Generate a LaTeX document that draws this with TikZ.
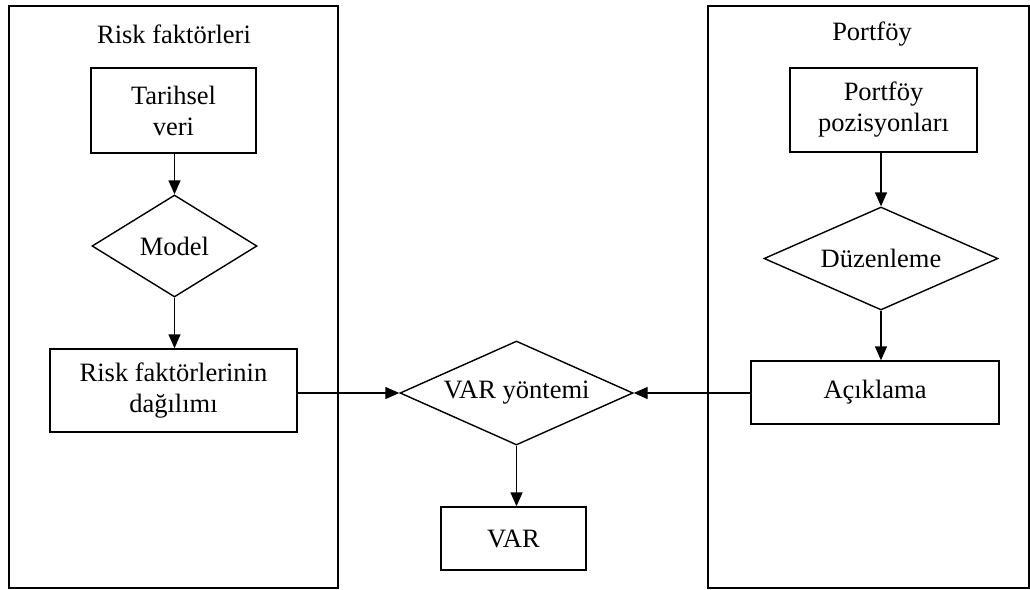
\documentclass[tikz,border=0pt]{standalone}
\usepackage{fontspec}
\setmainfont{Liberation Serif}
\usetikzlibrary{shapes.geometric,arrows.meta}
\tikzset{
  panel/.style={draw, line width=1.5pt, inner sep=0pt},
  stepbox/.style={draw, line width=1.4pt, align=center, inner sep=0pt},
  decision/.style={draw, diamond, line width=1.4pt, align=center, inner sep=0pt},
  flow/.style={line width=1.4pt, -{Triangle[length=14pt,width=12pt]}},
  title/.style={inner sep=0pt}
}
\begin{document}
\begin{tikzpicture}[x=1pt, y=-1pt, font=\fontsize{26.5}{31}\selectfont]
\useasboundingbox (0,0) rectangle (1030,589);

% two side panels
\node[panel, minimum width=329pt, minimum height=582pt] (lpanel) at (173.5,297) {};
\node[panel, minimum width=321pt, minimum height=582pt] (rpanel) at (868.5,297) {};
\node[title] (ltitle) at (174,34) {Risk faktörleri};
\node[title] (rtitle) at (872,34) {Portföy};

% left column
\node[stepbox, minimum width=165pt, minimum height=85pt] (hist) at (173.5,110.5) {Tarihsel\\veri};
\node[decision, aspect=1.62, minimum width=165pt, minimum height=102pt] (model) at (174.5,246) {Model};
\node[stepbox, minimum width=247pt, minimum height=83pt] (dist) at (173.5,390.5) {Risk faktörlerinin\\dağılımı};

% right column
\node[stepbox, minimum width=187pt, minimum height=84pt] (pos) at (883.5,110) {Portföy\\pozisyonları};
\node[decision, aspect=2.27, minimum width=234pt, minimum height=103pt] (map) at (881,258.5) {Düzenleme};
\node[stepbox, minimum width=248pt, minimum height=63pt] (expo) at (875,392.5) {Açıklama};

% middle
\node[decision, aspect=2.24, minimum width=233pt, minimum height=104pt] (method) at (516.5,393) {VAR yöntemi};
\node[stepbox, minimum width=145pt, minimum height=63pt] (var) at (513.5,538.5) {VAR};

% connectors
\draw[flow] (hist.south -| model.north) -- (model.north);
\draw[flow] (model.south) -- (model.south |- dist.north);
\draw[flow] (map.north |- pos.south) -- (map.north);
\draw[flow] (map.south) -- (map.south |- expo.north);
\draw[flow] (dist.east |- method.west) -- (method.west);
\draw[flow] (expo.west |- method.east) -- (method.east);
\draw[flow] (method.south) -- (method.south |- var.north);
\end{tikzpicture}
\end{document}
